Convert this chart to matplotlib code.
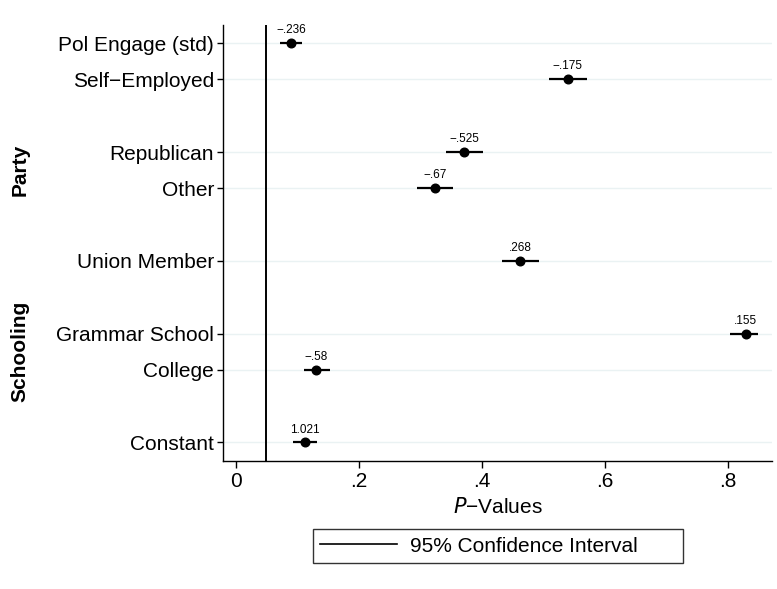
import matplotlib.pyplot as plt
from matplotlib.lines import Line2D

plt.rcParams['font.family'] = ['Liberation Sans', 'DejaVu Sans']

# Regression terms, their p-values and the 95% interval of each p-value
terms = ['Pol Engage (std)', 'Self\u2212Employed', 'Republican', 'Other',
         'Union Member', 'Grammar School', 'College', 'Constant']
rows = [1, 2, 4, 5, 7, 9, 10, 12]
pvals = [0.090, 0.539, 0.371, 0.324, 0.462, 0.828, 0.131, 0.113]
ci_low = [0.073, 0.509, 0.342, 0.295, 0.432, 0.803, 0.112, 0.094]
ci_high = [0.108, 0.570, 0.402, 0.353, 0.493, 0.849, 0.153, 0.133]
coefs = ['\u2212.236', '\u2212.175', '\u2212.525', '\u2212.67',
         '.268', '.155', '\u2212.58', '1.021']

# Group headers and the rows they span
groups = ['Party', 'Schooling']
group_rows = [(4, 5), (9, 10)]

xticks = [0, 0.2, 0.4, 0.6, 0.8]
xticklabels = ['0', '.2', '.4', '.6', '.8']
cutoff = 0.05

fs = 15

fig = plt.figure(figsize=(7.77, 5.89), dpi=100)
ax = fig.add_axes([0.287, 0.218, 0.7066, 0.7396])

for r in rows:
    ax.axhline(r, color='#eaf2f3', lw=1.0, zorder=0)

ax.axvline(cutoff, color='black', lw=1.4, zorder=1)

ax.hlines(rows, ci_low, ci_high, color='black', lw=1.6, zorder=2)
ax.plot(pvals, rows, 'o', color='black', ms=6.2, zorder=3)

for p, r, c in zip(pvals, rows, coefs):
    ax.annotate(c, (p, r), xytext=(0, 5), textcoords='offset points',
                ha='center', va='bottom', fontsize=8.5)

ax.set_ylim(12.5, 0.5)
ax.set_xlim(-0.0203, 0.871)
ax.set_yticks(rows)
ax.set_yticklabels(terms, fontsize=fs)
ax.set_xticks(xticks)
ax.set_xticklabels(xticklabels, fontsize=fs)
ax.tick_params(axis='y', length=4.5, width=1.0, pad=2)
ax.tick_params(axis='x', length=5, width=1.0, pad=3.5)
ax.set_xlabel('$\\it{P}$\u2212Values', fontsize=fs, labelpad=4)

for side in ['top', 'right']:
    ax.spines[side].set_visible(False)
for side in ['left', 'bottom']:
    ax.spines[side].set_linewidth(1.0)

# Bold group headers to the left of the tick labels
for name, (r0, r1) in zip(groups, group_rows):
    ax.text(0.026, ax.transData.transform((0, (r0 + r1) / 2))[1] / fig.dpi / 5.89,
            name, transform=fig.transFigure, rotation=90, ha='center',
            va='center', fontsize=fs, fontweight='bold')

handle = Line2D([], [], color='black', lw=1.2)
fig.legend([handle], ['95% Confidence Interval'], loc='center',
           bbox_to_anchor=(0.4028, 0.039, 0.476, 0.068), mode='expand',
           fontsize=fs, handlelength=3.7, handletextpad=0.6,
           borderpad=0.35, borderaxespad=0, fancybox=False,
           edgecolor='#333333', framealpha=1)

fig.savefig('out.png', dpi=100)
